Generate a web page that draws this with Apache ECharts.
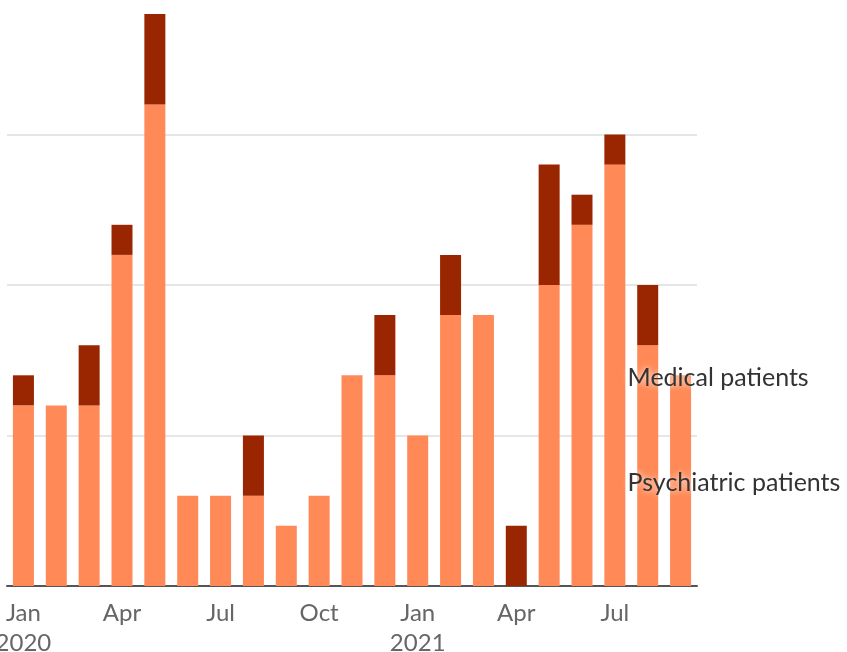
<!DOCTYPE html>
<html>
<head>
<meta charset="utf-8">
<style>
  html, body { margin: 0; padding: 0; background: #fff; }
  #chart { width: 847px; height: 652px; }
</style>
<script src="https://cdn.jsdelivr.net/npm/echarts@6/dist/echarts.min.js"></script>
</head>
<body>
<div id="chart"></div>
<script>
// monthly counts, Jan 2020 - Sep 2021
var months = ['Jan\n2020','Feb','Mar','Apr','May','Jun','Jul','Aug','Sep','Oct','Nov','Dec',
              'Jan\n2021','Feb','Mar','Apr','May','Jun','Jul','Aug','Sep'];
var psychiatric = [6, 6, 6, 11, 16, 3, 3, 3, 2, 3, 7, 7, 5, 9, 9, 0, 10, 12, 14, 8, 7];
var medical     = [1, 0, 2, 1, 3, 0, 0, 2, 0, 0, 0, 2, 0, 2, 0, 2, 4, 1, 1, 2, 0];
var seriesNames = ['Psychiatric patients', 'Medical patients'];

var chart = echarts.init(document.getElementById('chart'));

var option = {
    animation: false,
    grid: {
        left: 7,
        right: 150,
        top: -16,
        bottom: 66,
        containLabel: false,
        outerBoundsMode: 'none'
    },
    xAxis: {
        type: 'category',
        data: months,
        axisLine: { lineStyle: { color: '#555', width: 2 } },
        axisTick: { show: false },
        axisLabel: {
            interval: 2,
            color: '#666',
            fontFamily: 'Lato',
            fontSize: 24,
            lineHeight: 30,
            margin: 12
        }
    },
    yAxis: {
        type: 'value',
        min: 0,
        max: 20,
        interval: 5,
        axisLabel: { show: false },
        axisLine: { show: false },
        axisTick: { show: false },
        splitLine: { lineStyle: { color: '#e6e6e6', width: 2 } }
    },
    series: [
        {
            name: seriesNames[0],
            type: 'bar',
            stack: 'total',
            barWidth: 21,
            itemStyle: { color: '#FF8A58' },
            data: psychiatric
        },
        {
            name: seriesNames[1],
            type: 'bar',
            stack: 'total',
            barWidth: 21,
            itemStyle: { color: '#992600' },
            data: medical
        }
    ]
};
chart.setOption(option);

// end labels next to the last bar
var last = months.length - 1;
var pPsych = chart.convertToPixel({ gridIndex: 0 }, [last, psychiatric[last] / 2]);
var pMed = chart.convertToPixel({ gridIndex: 0 }, [last, psychiatric[last] + medical[last] / 2]);
var labelStyle = {
    fill: '#333',
    font: '25px Lato',
    textShadowColor: '#fff',
    textShadowBlur: 6
};
chart.setOption({
    graphic: [
        {
            type: 'text',
            left: pMed[0] - 53,
            top: pMed[1] - 10,
            z: 100,
            style: Object.assign({ text: seriesNames[1] }, labelStyle)
        },
        {
            type: 'text',
            left: pPsych[0] - 53,
            top: pPsych[1] - 10,
            z: 100,
            style: Object.assign({ text: seriesNames[0] }, labelStyle)
        }
    ]
});
</script>
</body>
</html>
